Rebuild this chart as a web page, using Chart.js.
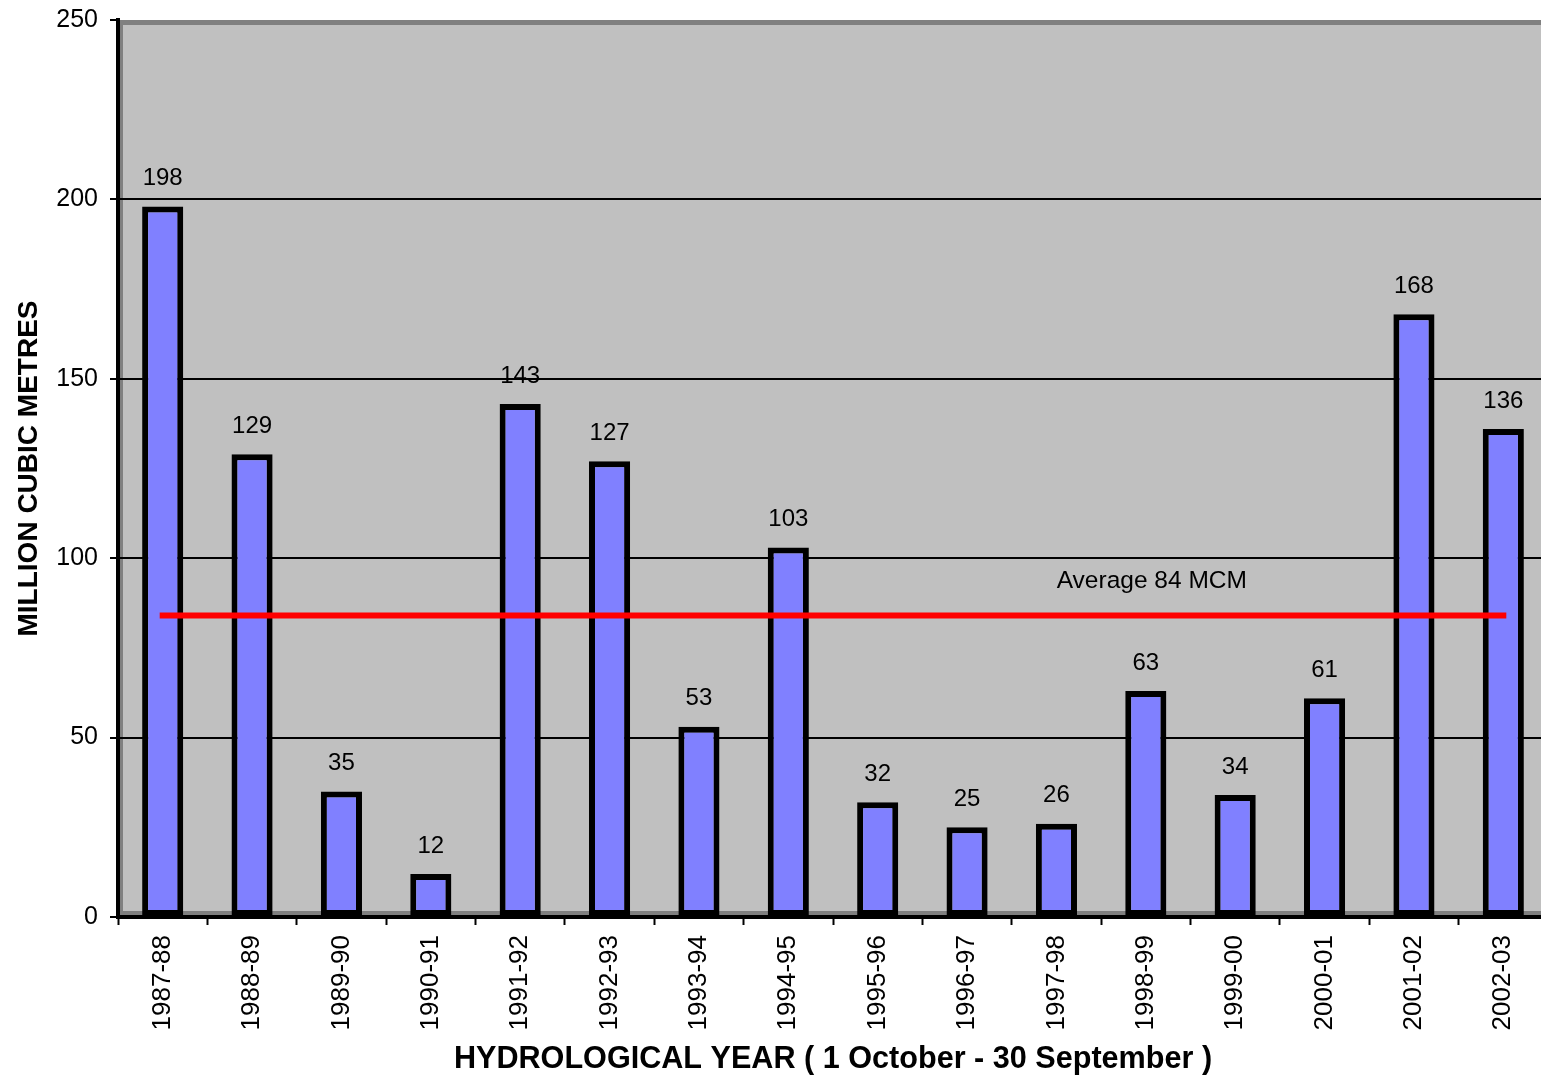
<!DOCTYPE html>
<html lang="en">
<head>
    <meta charset="UTF-8">
    <title>Hydrological Year Inflow</title>
    <style>
        body {
            margin: 0;
            padding: 0;
            overflow: hidden;
            background-color: #ffffff;
        }
        #chart-container {
            width: 1548px;
            height: 1079px;
        }
    </style>
</head>
<body>

    <div id="chart-container">
        <canvas id="inflowChart" width="1548" height="1079"></canvas>
    </div>

    <script src="https://cdn.jsdelivr.net/npm/chart.js"></script>

    <script>
        // Hydrological years (1 October - 30 September)
        const years = ["1987-88", "1988-89", "1989-90", "1990-91", "1991-92", "1992-93", "1993-94", "1994-95",
                       "1995-96", "1996-97", "1997-98", "1998-99", "1999-00", "2000-01", "2001-02", "2002-03"];

        // Million cubic metres per year
        const inflow = [198, 129, 35, 12, 143, 127, 53, 103, 32, 25, 26, 63, 34, 61, 168, 136];

        // Average line
        const averageValue = 84;
        const averageLine = years.map(() => averageValue);
        const averageLabel = "Average 84 MCM";

        const yTicks = [0, 50, 100, 150, 200, 250];

        const fontFamily = "'Liberation Sans', Arial, sans-serif";

        // Grey plot area with the darker edge lines
        const plotBackground = {
            id: 'plotBackground',
            beforeDraw(chart) {
                const { ctx, chartArea } = chart;
                ctx.save();
                ctx.fillStyle = '#c0c0c0';
                ctx.fillRect(chartArea.left, chartArea.top, chartArea.right - chartArea.left, chartArea.bottom - chartArea.top);
                ctx.fillStyle = '#808080';
                ctx.fillRect(chartArea.left, chartArea.top, chartArea.right - chartArea.left, 5);
                ctx.fillRect(chartArea.left, chartArea.top, 5, chartArea.bottom - chartArea.top);
                ctx.fillRect(chartArea.left, chartArea.bottom - 6, chartArea.right - chartArea.left, 4);
                ctx.restore();
            }
        };

        // Value labels above bars and the average caption
        const valueLabels = {
            id: 'valueLabels',
            afterDatasetsDraw(chart) {
                const { ctx } = chart;
                const meta = chart.getDatasetMeta(1);
                ctx.save();
                ctx.fillStyle = '#000';
                ctx.font = "24px " + fontFamily;
                ctx.textAlign = 'center';
                ctx.textBaseline = 'middle';
                meta.data.forEach((bar, i) => {
                    ctx.fillText(inflow[i], bar.x, bar.y - 28);
                });
                const xScale = chart.scales.x;
                const yScale = chart.scales.y;
                ctx.font = "24.5px " + fontFamily;
                ctx.fillText(averageLabel, xScale.getPixelForValue(11) + 6, yScale.getPixelForValue(averageValue + 9.5));
                ctx.restore();
            }
        };

        const ctx = document.getElementById('inflowChart').getContext('2d');
        new Chart(ctx, {
            type: 'bar',
            data: {
                labels: years,
                datasets: [
                    {
                        type: 'line',
                        label: 'Average',
                        data: averageLine,
                        borderColor: '#ff0000',
                        borderWidth: 6,
                        borderCapStyle: 'square',
                        pointRadius: 0,
                        fill: false,
                        order: 0
                    },
                    {
                        label: 'Inflow',
                        data: inflow,
                        backgroundColor: '#8080ff',
                        borderColor: '#000000',
                        borderWidth: 6,
                        borderSkipped: false,
                        barPercentage: 0.46,
                        categoryPercentage: 1.0,
                        order: 1
                    }
                ]
            },
            options: {
                responsive: false,
                animation: false,
                layout: {
                    padding: { top: 20, right: 0, bottom: 0, left: 0 }
                },
                plugins: {
                    legend: { display: false },
                    tooltip: { enabled: false }
                },
                scales: {
                    x: {
                        afterFit(scale) { scale.height = 162; },
                        grid: {
                            drawOnChartArea: false,
                            drawTicks: true,
                            tickLength: 8,
                            tickColor: '#000',
                            tickWidth: 2,
                            offset: true
                        },
                        border: { color: '#000', width: 4 },
                        ticks: {
                            color: '#000',
                            font: { family: fontFamily, size: 26 },
                            minRotation: 90,
                            maxRotation: 90,
                            padding: 10
                        },
                        title: {
                            display: true,
                            text: 'HYDROLOGICAL YEAR ( 1 October - 30 September )',
                            color: '#000',
                            font: { family: fontFamily, size: 30.6, weight: 'bold' },
                            padding: { top: 0, bottom: 1 }
                        }
                    },
                    y: {
                        min: 0,
                        max: 250,
                        afterFit(scale) {
                            scale.width = 118;
                            scale.paddingTop = 0;
                            scale.paddingBottom = 0;
                        },
                        afterBuildTicks(scale) { scale.ticks = yTicks.map(v => ({ value: v })); },
                        grid: {
                            color: (c) => (c.tick && c.tick.value === 250) ? 'rgba(0,0,0,0)' : '#000',
                            lineWidth: 2,
                            drawTicks: true,
                            tickLength: 8,
                            tickColor: '#000',
                            tickWidth: 2
                        },
                        border: { color: '#000', width: 4 },
                        ticks: {
                            color: '#000',
                            font: { family: fontFamily, size: 25 },
                            padding: 12
                        },
                        title: {
                            display: true,
                            text: 'MILLION CUBIC METRES',
                            color: '#000',
                            font: { family: fontFamily, size: 28, weight: 'bold' },
                            padding: { top: 12, bottom: 0 }
                        }
                    }
                }
            },
            plugins: [plotBackground, valueLabels]
        });
    </script>

</body>
</html>
